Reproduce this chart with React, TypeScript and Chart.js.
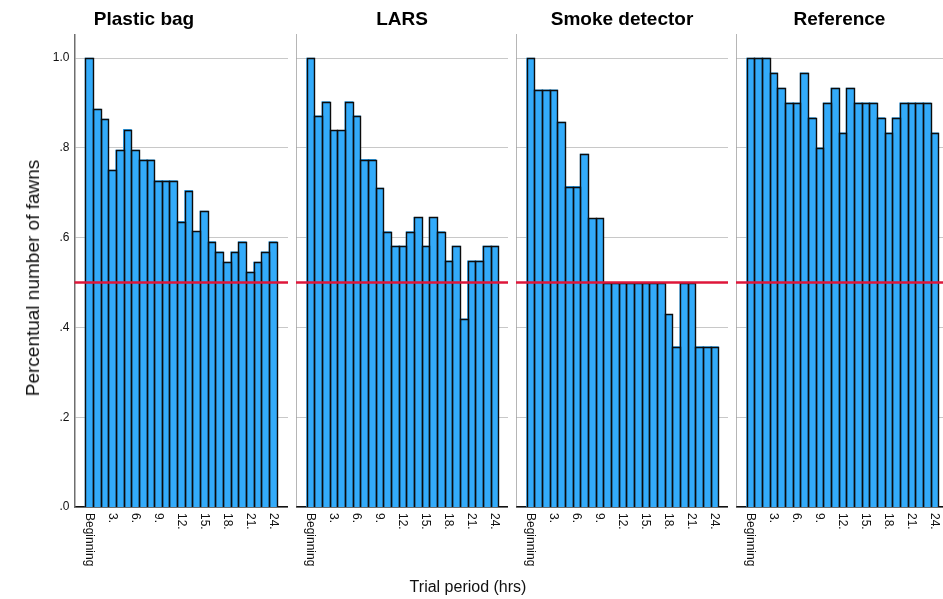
import { useEffect, useRef } from "react";
import { Chart, registerables } from "chart.js";

Chart.register(...registerables);

// Trial hours: 0 = beginning of the trial, then hourly checks up to 24 h
const hours = [0, 1, 2, 3, 4, 5, 6, 7, 8, 9, 10, 11, 12, 13, 14, 15, 16, 17, 18, 19, 20, 21, 22, 23, 24];
const tickHours = [0, 3, 6, 9, 12, 15, 18, 21, 24];
const tickLabels = ["Beginning", "3.", "6.", "9.", "12.", "15.", "18.", "21.", "24."];
const yTickLabels = [".0", ".2", ".4", ".6", ".8", "1.0"];

const panelTitles = ["Plastic bag", "LARS", "Smoke detector", "Reference"];

// Share of fawns still present at each check
const plasticBag = [1.0, 0.886, 0.864, 0.75, 0.795, 0.841, 0.795, 0.773, 0.773, 0.727, 0.727, 0.727, 0.636, 0.705, 0.614, 0.659, 0.591, 0.568, 0.545, 0.568, 0.591, 0.523, 0.545, 0.568, 0.591];
const lars = [1.0, 0.871, 0.903, 0.839, 0.839, 0.903, 0.871, 0.774, 0.774, 0.71, 0.613, 0.581, 0.581, 0.613, 0.645, 0.581, 0.645, 0.613, 0.548, 0.581, 0.419, 0.548, 0.548, 0.581, 0.581];
const smokeDetector = [1.0, 0.929, 0.929, 0.929, 0.857, 0.714, 0.714, 0.786, 0.643, 0.643, 0.5, 0.5, 0.5, 0.5, 0.5, 0.5, 0.5, 0.5, 0.429, 0.357, 0.5, 0.5, 0.357, 0.357, 0.357];
const reference = [1.0, 1.0, 1.0, 0.967, 0.933, 0.9, 0.9, 0.967, 0.867, 0.8, 0.9, 0.933, 0.833, 0.933, 0.9, 0.9, 0.9, 0.867, 0.833, 0.867, 0.9, 0.9, 0.9, 0.9, 0.833];

const threshold = 0.5;

const FONT = "'Liberation Sans', Arial, Helvetica, sans-serif";
const BAR_FILL = "rgb(51, 171, 250)";
const BAR_EDGE = "#0c0c0c";
const LINE_RED = "rgb(222, 22, 58)";

// Panel geometry (pixels)
const CANVAS_H = 599;
const BAR_STEP = 7.66;
const X_MIN = -1.9;
const panelBoxes = [
  { left: 0, axis: 74.5, plot: 213.5 },
  { left: 296, axis: 0, plot: 212 },
  { left: 516, axis: 0, plot: 212 },
  { left: 736, axis: 0, plot: 207 },
];

const seriesList = [plasticBag, lars, smokeDetector, reference];

const overlayPlugin = {
  id: "panelOverlay",
  afterDatasetsDraw(chart: any) {
    const { ctx, chartArea } = chart;

    // crisp outlines around every bar, snapped to the pixel grid
    const bars = chart.getDatasetMeta(0).data;
    ctx.save();
    ctx.strokeStyle = BAR_EDGE;
    ctx.lineWidth = 1.4;
    bars.forEach((el: any) => {
      const p = el.getProps(["x", "y", "base", "width"], true);
      const l = Math.round(p.x - p.width / 2) + 0.5;
      const r = Math.round(p.x + p.width / 2) + 0.5;
      const t = Math.round(p.y) + 0.5;
      const b = Math.round(p.base);
      ctx.beginPath();
      ctx.moveTo(l, b);
      ctx.lineTo(l, t);
      ctx.lineTo(r, t);
      ctx.lineTo(r, b);
      ctx.stroke();
    });
    ctx.restore();

    // 50 % reference line
    const y = chart.scales.y.getPixelForValue(threshold);
    ctx.save();
    ctx.strokeStyle = LINE_RED;
    ctx.lineWidth = 2.5;
    ctx.beginPath();
    ctx.moveTo(chartArea.left, y);
    ctx.lineTo(chartArea.right, y);
    ctx.stroke();
    ctx.restore();
  },
  afterDraw(chart: any) {
    const { ctx, chartArea } = chart;
    const xs = chart.scales.x;
    ctx.save();
    ctx.font = `12px ${FONT}`;
    ctx.fillStyle = "#111";
    ctx.textAlign = "left";
    ctx.textBaseline = "middle";
    tickHours.forEach((h, i) => {
      ctx.save();
      ctx.translate(xs.getPixelForValue(h), chartArea.bottom + 6);
      ctx.rotate(Math.PI / 2);
      ctx.fillText(tickLabels[i], 0, 0);
      ctx.restore();
    });
    ctx.restore();
  },
};

function makeChart(canvas: HTMLCanvasElement, idx: number) {
  const box = panelBoxes[idx];
  const values = seriesList[idx];
  const showY = idx === 0;
  return new Chart(canvas, {
    type: "bar",
    data: {
      datasets: [
        {
          data: hours.map((h, i) => ({ x: h, y: values[i] })),
          backgroundColor: BAR_FILL,
          borderWidth: 0,
          inflateAmount: 0.5,
          barPercentage: 1,
          categoryPercentage: 1,
        },
      ],
    },
    options: {
      animation: false,
      responsive: false,
      devicePixelRatio: 1,
      layout: { padding: { left: 0, right: 0, top: 0, bottom: 92 } },
      plugins: {
        legend: { display: false },
        tooltip: { enabled: false },
        title: {
          display: true,
          text: panelTitles[idx],
          color: "#000",
          font: { family: FONT, size: 19, weight: "bold" },
          padding: { top: 8, bottom: 4 },
        },
      },
      scales: {
        x: {
          type: "linear",
          min: X_MIN,
          max: X_MIN + box.plot / BAR_STEP,
          offset: false,
          bounds: "data",
          z: 1,
          grid: { display: false, offset: false },
          border: { display: true, color: "#111", width: 1.5 },
          ticks: { display: false },
          afterFit: (s: any) => {
            s.height = 0;
          },
        },
        y: {
          min: 0,
          max: 1.052,
          grid: { color: "#c8c8c8", lineWidth: 1, drawTicks: false },
          border: { display: true, color: "#6e6e6e", width: 1.5 },
          ticks: {
            display: showY,
            stepSize: 0.2,
            includeBounds: false,
            padding: 5,
            color: "#111",
            font: { family: FONT, size: 12 },
            callback: (v: any) => yTickLabels[Math.round(Number(v) / 0.2)] ?? "",
          },
          afterFit: (s: any) => {
            s.width = box.axis;
          },
        },
      },
    } as any,
    plugins: [overlayPlugin],
  });
}

export default function App() {
  const refs = useRef<(HTMLCanvasElement | null)[]>([]);

  useEffect(() => {
    const charts = refs.current.map((c, i) => (c ? makeChart(c, i) : null));
    return () => {
      charts.forEach((ch) => ch && ch.destroy());
    };
  }, []);

  return (
    <div
      style={{
        position: "absolute",
        left: 0,
        top: 0,
        width: 943,
        height: CANVAS_H,
        background: "#fff",
        overflow: "hidden",
        fontFamily: FONT,
      }}
    >
      {panelBoxes.map((b, i) => (
        <canvas
          key={i}
          ref={(el) => {
            refs.current[i] = el;
          }}
          width={b.axis + b.plot}
          height={CANVAS_H}
          style={{ position: "absolute", left: b.left, top: 0, display: "block" }}
        />
      ))}
      <div
        style={{
          position: "absolute",
          left: 33,
          top: 278,
          transform: "translate(-50%, -50%) rotate(-90deg)",
          whiteSpace: "nowrap",
          fontSize: 19,
          color: "#111",
        }}
      >
        Percentual number of fawns
      </div>
      <div
        style={{
          position: "absolute",
          left: 468,
          top: 587,
          transform: "translate(-50%, -50%)",
          whiteSpace: "nowrap",
          fontSize: 16,
          color: "#111",
        }}
      >
        Trial period (hrs)
      </div>
    </div>
  );
}
